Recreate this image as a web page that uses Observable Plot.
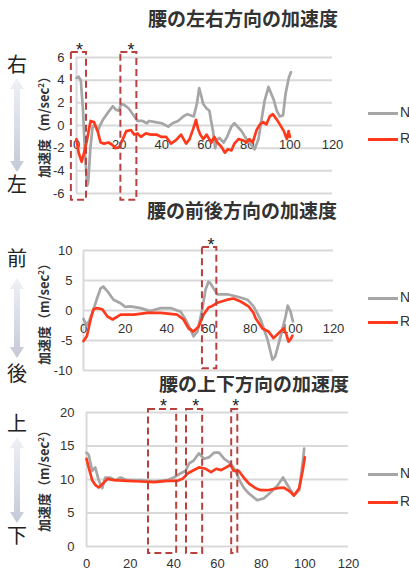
<!DOCTYPE html>
<html><head><meta charset="utf-8">
<script src="https://cdn.jsdelivr.net/npm/d3@7"></script>
<script src="https://cdn.jsdelivr.net/npm/@observablehq/plot@0.6"></script>
<style>
html,body{margin:0;padding:0;background:#fff}
#root{position:relative;width:409px;height:574px;overflow:hidden;background:#fff;font-family:"Liberation Sans",Arial,sans-serif}
.abs{position:absolute}
.title{font-family:"Noto Sans CJK JP",sans-serif;font-weight:bold;font-size:19px;color:#333;white-space:nowrap;transform:translate(-50%,-50%);line-height:1}
.side{font-family:"Noto Sans CJK JP",sans-serif;font-size:20px;color:#222;transform:translate(-50%,-50%);line-height:1}
.ylab{font-family:"Noto Sans CJK JP",sans-serif;font-size:13px;font-weight:bold;color:#333;white-space:nowrap;transform:translate(-50%,-50%) rotate(-90deg);line-height:1}
.ylab sup{font-size:8px;vertical-align:5px}
.leg{font-size:14px;color:#333;line-height:1}
.leg span.l{position:absolute;left:0;width:30px;height:3px}
.leg span.t{position:absolute;left:32px;top:-7px}
svg{position:absolute;left:0;overflow:visible}
</style></head>
<body><div id="root"></div>
<script>
// ---- data ----
const xTicks = [0, 20, 40, 60, 80, 100, 120];
const latTicks = [-6, -4, -2, 0, 2, 4, 6];
const apTicks = [-10, -5, 0, 5, 10];
const vtTicks = [0, 5, 10, 15, 20];
const seriesNames = ["N", "R"];
const titles = ["腰の左右方向の加速度", "腰の前後方向の加速度", "腰の上下方向の加速度"];
const sideLabels = [["右", "左"], ["前", "後"], ["上", "下"]];

// lateral (左右)
const latN = [[0,4.2],[1,4.3],[2,4.0],[3,1.5],[4,-2.5],[5,-5.3],[5.5,-5.0],[6.5,-2.0],[7.5,-0.2],[8.5,0.1],[10,-0.5],[11,0.0],[12.7,0.6],[15,1.2],[17,1.7],[18.4,1.4],[19.8,1.3],[21,1.9],[22.5,1.8],[24.5,1.5],[26.4,1.0],[28.6,0.4],[31,0.4],[33,0.2],[34,0.4],[37,0.3],[40,0.2],[43,-0.1],[45,0.2],[47.6,0.4],[50,0.8],[52,1.0],[55,0.8],[56.5,2.0],[57.5,3.3],[58.5,2.6],[59.4,1.9],[61,1.5],[62.3,1.3],[63,0.5],[64,-0.5],[65,-2.0],[66,-1.2],[67,-1.1],[69,-1.5],[70.6,-1.0],[72.6,-0.1],[74,0.2],[75.5,-0.1],[77.4,-0.5],[79,-1.0],[81,-1.5],[83.5,-2.1],[85.3,-1.2],[86.8,0.6],[88.2,2.2],[90,3.4],[92.4,2.3],[93.9,1.3],[95.3,0.8],[96.8,0.9],[98,2.8],[99.5,4.2],[100.5,4.7]];
const latR = [[0,-1.2],[1,-2.4],[2.4,-3.2],[3.3,-2.6],[5,-1.2],[6.6,0.4],[8.2,0.3],[9.9,-0.5],[11.3,-1.5],[12.9,-1.6],[15,-1.5],[16.7,-1.7],[18.4,-2.0],[20,-1.9],[21.7,-1.2],[23.3,-0.5],[25.5,-0.4],[27,-0.8],[28.6,-0.7],[30.2,-1.0],[32.5,-0.7],[34.9,-0.8],[37.4,-0.8],[39.6,-1.0],[42,-1.0],[44.3,-1.6],[46.6,-1.3],[49,-0.8],[51.4,-1.6],[53,-1.2],[54.7,-0.3],[56,0.5],[57,-0.3],[58,-0.8],[59.4,-1.2],[61,-0.8],[63.2,-1.5],[64.6,-1.0],[66,-1.5],[68,-1.9],[69.5,-2.4],[71,-2.1],[72.6,-2.2],[74,-1.6],[75.9,-1.2],[78,-1.3],[79.6,-1.5],[81,-1.2],[82.6,-1.5],[84.4,-0.4],[86,0.1],[87.5,0.3],[89,0.1],[90.6,0.8],[92,1.0],[94,0.5],[95.3,0.1],[97.2,-0.5],[98.6,-1.2],[99.4,-0.5],[100,-1.0]];
// antero-posterior (前後)
const apN = [[0,-1.4],[1.5,-2.5],[3,-1.5],[4.8,0.2],[6.5,2.0],[8.2,3.7],[9.5,4.0],[11.5,3.2],[14.4,1.8],[17.8,1.2],[20,0.6],[22.6,0.7],[27.4,0.4],[32,-0.1],[37,0.4],[41.8,0.4],[46.6,-0.2],[49,-1.5],[51.4,-3.2],[52.8,-4.3],[54.7,-3.5],[57,0.2],[58.6,3.5],[60,4.8],[61,4.5],[62.4,3.7],[64.3,2.7],[69,2.7],[74,2.3],[78.7,1.8],[81.6,0.7],[85,-1.5],[88.3,-4.8],[90.7,-8.2],[92,-7.7],[94.6,-4.3],[97,-1.0],[98,0.8],[99.4,-0.2],[100.5,-1.8]];
const apR = [[0,-5.1],[1.6,-4.3],[3.4,-1.5],[4.8,0.2],[6.4,0.4],[9,0.2],[11.5,-1.0],[14,-1.5],[17.8,-0.7],[24.2,-0.7],[30.6,-0.4],[37,-0.4],[45,-0.7],[48,-1.5],[50.5,-3.0],[52.8,-3.5],[55.2,-2.7],[57.6,-0.7],[60,0.5],[61.5,0.7],[64.3,1.3],[69,1.8],[72,2.0],[75.4,1.5],[79.2,0.7],[81.6,-0.4],[82.6,-1.3],[85.9,-3.0],[88.8,-3.5],[91.2,-4.6],[93.6,-3.8],[96,-3.0],[97.4,-4.0],[98.4,-5.2],[99.4,-4.8],[100.3,-4.2]];
// vertical (上下)
const vtN = [[0,14.0],[1,13.7],[2.6,11.3],[4,11.8],[5.6,9.9],[7.2,8.7],[8.6,10.3],[10.7,10.3],[13.3,9.9],[15.6,10.3],[18.7,9.9],[24.8,9.9],[31,9.7],[37,9.9],[40,10.3],[43,10.9],[45.4,11.3],[47,12.4],[49,12.8],[51.5,13.9],[53.8,13.1],[56,13.3],[58.4,14.0],[60.7,14.0],[63,13.1],[66,12.4],[68.3,11.3],[70,9.9],[72,8.8],[74.4,7.9],[78.2,6.9],[81.3,7.2],[84.4,8.1],[87.5,9.1],[90,10.3],[92.2,9.1],[95,7.6],[97.4,8.4],[99,12.4],[99.7,14.6]];
const vtR = [[0,13.1],[1,11.8],[2.6,9.9],[4,9.2],[5.6,8.8],[7.2,9.3],[9.6,10.1],[12.6,9.9],[18.7,9.8],[24.8,9.7],[31,9.6],[37,9.8],[41.7,9.8],[44,10.1],[46.3,10.9],[48.6,11.3],[51.5,11.8],[54.6,11.6],[57,11.1],[59.4,11.6],[61.7,11.4],[63.9,11.8],[66,12.2],[67.4,11.3],[69.7,11.3],[72,10.3],[74.4,9.4],[77.5,8.7],[79.8,8.4],[82.9,8.4],[87.5,8.7],[90.4,8.8],[93.6,8.1],[95,7.6],[97.4,8.7],[99,11.3],[100,13.3]];

// significance regions (x from / to) and asterisk positions
const latBoxes = [[-2.4, 4.7], [20.8, 28.3]];
const apBoxes = [[57.1, 64]];
const vtBoxes = [[28.4, 41.3], [45.8, 53.2], [66.5, 69.3]];
const latStars = [1.4, 25.5];
const apStars = [61.2];
const vtStars = [35.3, 50, 68.4];

// ---- styling ----
const GRID = "#d9d9d9", NCOL = "#a6a6a6", RCOL = "#ff3a1c", BOXCOL = "#b9413d";
const root = document.getElementById("root");

function panel(cfg) {
  const [y0, y1] = cfg.domain;
  const marks = [
    Plot.ruleY(cfg.yTicks, {stroke: GRID, strokeWidth: 2}),
    Plot.ruleX([0], {y1: y0, y2: y1, stroke: GRID, strokeWidth: 2}),
    Plot.text(cfg.yTicks, {x: 0, y: d => d, text: d => String(d), textAnchor: "end", dx: cfg.ydx, fill: "#333"}),
    Plot.text(xTicks, {x: d => d, y: cfg.xLabelAt, text: d => String(d), dy: cfg.xdy, fill: "#333"}),
    Plot.line(cfg.n, {x: d => d[0], y: d => d[1], stroke: NCOL, strokeWidth: 2.7, curve: "linear"}),
    Plot.line(cfg.r, {x: d => d[0], y: d => d[1], stroke: RCOL, strokeWidth: 2.7, curve: "linear"}),
    Plot.rect(cfg.boxes, {x1: d => d[0], x2: d => d[1], y1: d => cfg.boxY[0], y2: d => cfg.boxY[1], fill: "none", stroke: BOXCOL, strokeWidth: 2, strokeDasharray: "7,4"}),
    Plot.text(cfg.stars, {x: d => d, y: cfg.starY, text: d => "*", fontSize: 18, fill: "#222", dy: 2})
  ];
  const svg = Plot.plot({
    width: 409, height: cfg.height,
    marginLeft: cfg.ml, marginRight: cfg.mr, marginTop: cfg.mt, marginBottom: cfg.mb,
    x: {domain: [0, 120], axis: null},
    y: {domain: cfg.domain, axis: null},
    style: {fontSize: "13px", fontFamily: "'Liberation Sans', Arial, sans-serif", background: "transparent", overflow: "visible"},
    marks
  });
  svg.style.top = cfg.top + "px";
  return svg;
}

function addDiv(cls, html, x, y) {
  const d = document.createElement("div");
  d.className = "abs " + cls;
  d.innerHTML = html;
  d.style.left = x + "px"; d.style.top = y + "px";
  root.appendChild(d);
  return d;
}

function arrow(x, yTop, yBot) {
  const ns = "http://www.w3.org/2000/svg";
  const s = document.createElementNS(ns, "svg");
  s.setAttribute("width", 409); s.setAttribute("height", 574);
  s.style.top = "0px";
  const id = "g" + yTop;
  s.innerHTML = `<defs><linearGradient id="${id}" x1="0" y1="0" x2="0" y2="1"><stop offset="0" stop-color="#eef1f6"/><stop offset="1" stop-color="#c3c9d6"/></linearGradient></defs>
  <polygon fill="url(#${id})" points="${x},${yTop} ${x+7},${yTop+11} ${x+3},${yTop+11} ${x+3},${yBot-11} ${x+7},${yBot-11} ${x},${yBot} ${x-7},${yBot-11} ${x-3},${yBot-11} ${x-3},${yTop+11} ${x-7},${yTop+11}"/>`;
  root.appendChild(s);
}

function legend(yN, yR) {
  addDiv("leg", `<span class="l" style="background:${NCOL}"></span><span class="t">${seriesNames[0]}</span>`, 368, yN);
  addDiv("leg", `<span class="l" style="background:${RCOL}"></span><span class="t">${seriesNames[1]}</span>`, 368, yR);
}

const ylabHTML = "加速度（m/sec<sup>2</sup>）";

// ---- panel 1 ----
addDiv("title", titles[0], 243, 17);
addDiv("side", sideLabels[0][0], 17, 64);
addDiv("side", sideLabels[0][1], 17, 184);
arrow(17, 78, 172);
addDiv("ylab", ylabHTML, 43, 124);
root.appendChild(panel({top: 0, height: 205, ml: 76, mr: 77, mt: 57, mb: 12, domain: [-6, 6], yTicks: latTicks,
  n: latN, r: latR, boxes: latBoxes, boxY: [-6.6, 6.45], stars: latStars, starY: 6.8, ydx: -12, xLabelAt: 0, xdy: 19}));
legend(112, 138);

// ---- panel 3 title (partly hidden under panel 2) ----
addDiv("title", titles[2], 254, 382);
const cover = addDiv("", "", 140, 355);
cover.style.width = "220px"; cover.style.height = "21px"; cover.style.background = "#fff";

// ---- panel 2 ----
addDiv("title", titles[1], 242, 209);
addDiv("side", sideLabels[1][0], 17, 258);
addDiv("side", sideLabels[1][1], 17, 373);
arrow(17, 278, 358);
addDiv("ylab", ylabHTML, 43, 311);
root.appendChild(panel({top: 200, height: 175, ml: 83, mr: 76, mt: 50, mb: 5, domain: [-10, 10], yTicks: apTicks,
  n: apN, r: apR, boxes: apBoxes, boxY: [-9.7, 10.5], stars: apStars, starY: 11.2, ydx: -11, xLabelAt: 0, xdy: 18}));
legend(297, 321);

// ---- panel 3 ----
addDiv("side", sideLabels[2][0], 17, 423);
addDiv("side", sideLabels[2][1], 17, 535);
arrow(17, 437, 523);
addDiv("ylab", ylabHTML, 43, 478);
root.appendChild(panel({top: 390, height: 184, ml: 86, mr: 61, mt: 22, mb: 28, domain: [0, 20], yTicks: vtTicks,
  n: vtN, r: vtR, boxes: vtBoxes, boxY: [-1.05, 20.45], stars: vtStars, starY: 21.3, ydx: -12, xLabelAt: 0, xdy: 17}));
legend(473, 501);
</script>
</body></html>
